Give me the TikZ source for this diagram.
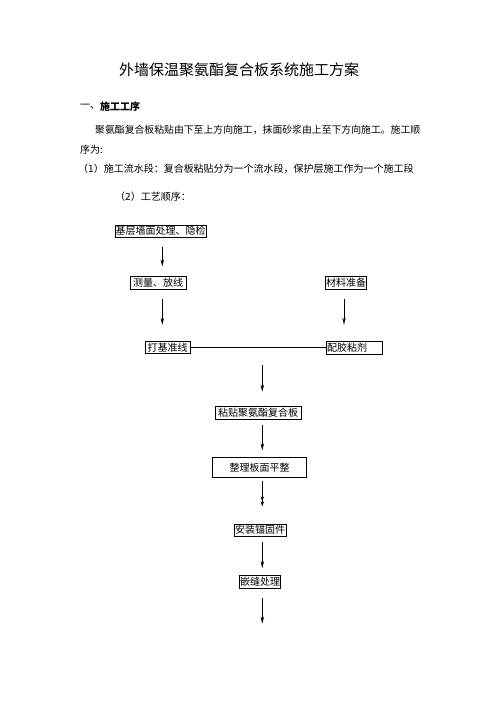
\documentclass[tikz,border=0pt]{standalone}
\usepackage{fontspec}
\setmainfont{Noto Sans CJK SC}
\usetikzlibrary{arrows.meta}
\tikzset{
  box/.style={draw, line width=0.7pt, inner sep=0.5pt, minimum height=12.5pt, font=\fontsize{10}{12}\selectfont},
  arr/.style={line width=0.8pt, -{Stealth[length=7pt,width=3.5pt]}},
  dblarr/.style={line width=0.8pt, -{Stealth[length=5pt,width=3.5pt]Stealth[length=5pt,width=3.5pt]}},
  txt/.style={inner sep=0pt, anchor=west, font=\fontsize{10}{12}\selectfont},
}
\begin{document}
\begin{tikzpicture}[x=1pt,y=-1pt]
\useasboundingbox (0,0) rectangle (496,702);
\fill[white] (0,0) rectangle (496,702);
% title and text
\node[inner sep=0pt, font=\fontsize{15}{18}\selectfont] (title) at (239,70) {外墙保温聚氨酯复合板系统施工方案};
\node[txt] (h1a) at (80,107) {一、};
\node[txt, font=\fontsize{10}{12}\selectfont\bfseries] (h1b) at (100,107) {施工工序};
\node[txt, font=\fontsize{9.85}{12}\selectfont] (p1) at (95,130) {聚氨酯复合板粘贴由下至上方向施工，抹面砂浆由上至下方向施工。施工顺};
\node[txt] (p2) at (80,150) {序为:};
\node[txt] (p3) at (78,169) {（1）施工流水段：复合板粘贴分为一个流水段，保护层施工作为一个施工段};
\node[txt] (p4) at (115,197) {（2）工艺顺序：};
% boxes
\node[box, minimum width=91pt] (b1) at (160.5,231.2) {基层墙面处理、隐检};
\node[box, minimum width=56pt] (b2) at (158,283) {测量、放线};
\node[box, minimum width=41pt] (b3) at (346,283) {材料准备};
\node[box, minimum width=45pt] (b4) at (167.5,347.5) {打基准线};
\node[box, minimum width=56pt, minimum height=13pt, text width=54pt, align=left] (b5) at (354,347.5) {配胶粘剂};
\node[box, minimum width=86pt] (b6) at (258,413) {粘贴聚氨酯复合板};
\node[box, minimum width=94.4pt, minimum height=20pt] (b7) at (259.5,467.3) {整理板面平整};
\node[box, minimum width=52pt, minimum height=12pt] (b8) at (260,530) {安装锚固件};
\node[box, minimum width=40pt, minimum height=13pt] (b9) at (260,581.7) {嵌缝处理};
% connectors
\draw[arr] ([shift={(1.8,9.2)}]b1.south) -- ([shift={(4.3,-10)}]b2.north);
\draw[arr] ([shift={(4.3,9)}]b2.south) -- ([shift={(-5.2,-16)}]b4.north);
\draw[arr] ([shift={(-2,9)}]b3.south) -- ([shift={(-10,-16)}]b5.north);
\draw[line width=0.8pt] (b4.east) -- (b5.west);
\draw[arr] ([shift={(4.3,-41.7)}]b6.north) -- ([shift={(4.3,-14.7)}]b6.north);
\draw[arr] ([shift={(4.3,5.7)}]b6.south) -- ([shift={(2.8,-6.6)}]b7.north);
\draw[dblarr] ([shift={(2.8,3.4)}]b7.south) -- ([shift={(2.3,-17.3)}]b8.north);
\draw[arr] ([shift={(2.3,5.7)}]b8.south) -- ([shift={(2.3,-6.7)}]b9.north);
\draw[arr] ([shift={(2.3,9)}]b9.south) -- ([shift={(2.3,35)}]b9.south);
\end{tikzpicture}
\end{document}
